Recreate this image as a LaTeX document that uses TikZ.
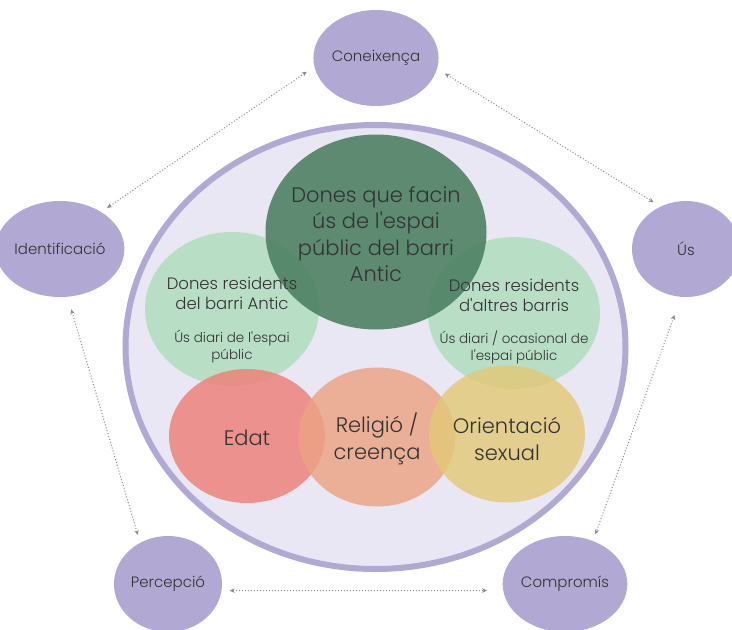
\documentclass[tikz,border=0pt]{standalone}
\usepackage{fontspec}
\setmainfont{Poppins}[UprightFont=* Light, Ligatures=TeXOff]
\usetikzlibrary{arrows.meta,shapes.geometric}
\definecolor{lav}{HTML}{B1A9D3}
\definecolor{lavbg}{HTML}{E9E7F3}
\definecolor{dkgreen}{HTML}{4A7E60}
\definecolor{ltgreen}{HTML}{B3DEC0}
\definecolor{redc}{HTML}{EE7F78}
\definecolor{orc}{HTML}{ECA383}
\definecolor{yelc}{HTML}{E3C978}
\definecolor{txt}{HTML}{333333}
\definecolor{arr}{HTML}{8A8A8A}
\begin{document}
\begin{tikzpicture}[x=1pt,y=-1pt,
  outer/.style={ellipse,fill=lav,minimum width=108pt,minimum height=96pt,inner sep=0pt,
    text=txt,font=\fontsize{15}{17}\selectfont},
  blob/.style={ellipse,inner sep=0pt,draw=none},
  lbl/.style={text=txt,align=center,inner sep=0pt},
  link/.style={draw=arr,line width=1pt,dotted,
    {Stealth[length=5pt,width=4.5pt,fill=arr]}-{Stealth[length=5pt,width=4.5pt,fill=arr]}}
]
\useasboundingbox (0,0) rectangle (732,630);
% outer nodes
\node[outer] (con) at (376,58) {Coneixença};
\node[outer] (iden) at (60,249) {Identificació};
\node[outer] (us) at (686,249) {Ús};
\node[outer] (perc) at (168,584) {Percepció};
\node[outer] (comp) at (565,584) {Compromís};
% connectors
\draw[link,shorten <=9pt,shorten >=7pt] (con.188) -- (iden.42);
\draw[link,shorten <=9pt,shorten >=8pt] (con.350) -- (us.121);
\draw[link,shorten <=13pt,shorten >=8pt] (iden.279) -- (perc.124);
\draw[link,shorten <=19pt,shorten >=7pt] (us.264) -- (comp.57);
\draw[link,shorten <=8pt,shorten >=16pt] (perc.353) -- (comp.186);
% big ellipse
\node[ellipse,draw=lav,line width=6pt,fill=lavbg,minimum width=500pt,minimum height=444pt,inner sep=0pt] (big) at (375.5,347) {};
% light green circles
\node[blob,fill=ltgreen,fill opacity=0.9,minimum width=174pt,minimum height=154pt] (lg) at (232,309) {};
\node[blob,fill=ltgreen,fill opacity=0.9,minimum width=172pt,minimum height=152pt] (rg) at (514,313) {};
% dark green
\node[blob,fill=dkgreen,fill opacity=0.88,minimum width=221pt,minimum height=195pt] (dg) at (376,232) {};
% bottom row
\node[blob,fill=redc,fill opacity=0.82,minimum width=156pt,minimum height=134pt] (edat) at (247,436) {};
\node[blob,fill=orc,fill opacity=0.82,minimum width=157pt,minimum height=139pt] (rel) at (377,437) {};
\node[blob,fill=yelc,fill opacity=0.82,minimum width=156pt,minimum height=137pt] (ori) at (507,434) {};
% texts
\node[lbl,font=\fontsize{21}{26.5}\selectfont] (tdg) at (376,234) {Dones que facin\\ús de l'espai\\públic del barri\\Antic};
\node[lbl,font=\fontsize{16.5}{20}\selectfont] (tlg1) at (232,293) {Dones residents\\del barri Antic};
\node[lbl,font=\fontsize{13.5}{17}\selectfont] (tlg2) at (232,347) {Ús diari de l'espai\\públic};
\node[lbl,font=\fontsize{16.5}{20}\selectfont] (trg1) at (514,295) {Dones residents\\d'altres barris};
\node[lbl,font=\fontsize{13.5}{17}\selectfont] (trg2) at (514,347) {Ús diari / ocasional de\\l'espai públic};
\node[lbl,font=\fontsize{21}{27}\selectfont] (tedat) at (247,438) {Edat};
\node[lbl,font=\fontsize{21}{27}\selectfont] (trel) at (377,439) {Religió /\\creença};
\node[lbl,font=\fontsize{21}{27}\selectfont] (tori) at (507,439) {Orientació\\sexual};
\end{tikzpicture}
\end{document}
